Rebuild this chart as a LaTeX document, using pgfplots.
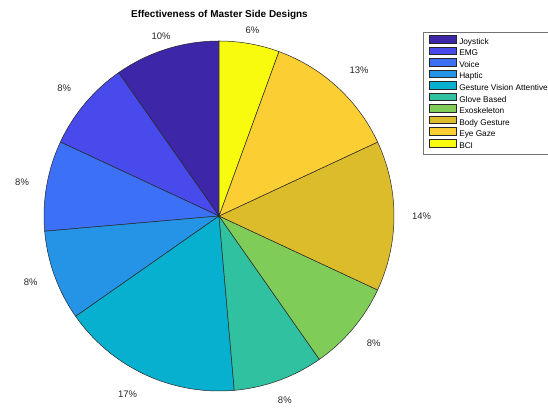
\documentclass[border=0pt]{standalone}
\usepackage{fontspec}
\setmainfont{Liberation Sans}
\usepackage{pgfplots}
\usepackage{pgfplotstable}
\pgfplotsset{compat=1.18}

\definecolor{s0}{RGB}{62,38,168}
\definecolor{s1}{RGB}{72,74,236}
\definecolor{s2}{RGB}{60,112,246}
\definecolor{s3}{RGB}{38,148,230}
\definecolor{s4}{RGB}{8,176,208}
\definecolor{s5}{RGB}{48,194,160}
\definecolor{s6}{RGB}{128,204,89}
\definecolor{s7}{RGB}{221,188,44}
\definecolor{s8}{RGB}{251,206,52}
\definecolor{s9}{RGB}{249,251,14}

% counts per design (percentages shown are count/total)
\pgfplotstableread[col sep=comma]{
name,count
Joystick,7
EMG,6
Voice,6
Haptic,6
Gesture Vision Attentive,12
Glove Based,6
Exoskeleton,6
Body Gesture,10
Eye Gaze,9
BCI,4
}\piedata

\tikzset{
  lab/.style={font=\fontsize{9.5}{11}\selectfont, inner sep=0.3bp, text=black!85},
  anc0/.style={anchor=north},
  anc1/.style={anchor=south east},
  anc2/.style={anchor=east},
  anc3/.style={anchor=east},
  anc4/.style={anchor=north east},
  anc5/.style={anchor=north},
  anc6/.style={anchor=north west},
  anc7/.style={anchor=west},
  anc8/.style={anchor=south west},
  anc9/.style={anchor=north},
}
\pgfplotsset{slice/.style={draw=black!85, line width=0.5bp, samples=73}}

\begin{document}
\begin{tikzpicture}
\def\total{0}
\pgfplotsforeachungrouped \i in {0,...,9}{%
  \pgfplotstablegetelem{\i}{count}\of\piedata
  \pgfmathsetmacro\total{\total+\pgfplotsretval}%
}
\def\cum{0}
\pgfplotsforeachungrouped \i in {0,...,9}{%
  \pgfplotstablegetelem{\i}{count}\of\piedata
  \let\cnt\pgfplotsretval
  \pgfmathsetmacro\sa{90+\cum/\total*360}%
  \pgfmathsetmacro\ea{90+(\cum+\cnt)/\total*360}%
  \pgfmathsetmacro\ma{(\sa+\ea)/2}%
  \pgfmathtruncatemacro\pc{round(\cnt/\total*100)}%
  \expandafter\xdef\csname sA\i\endcsname{\sa}%
  \expandafter\xdef\csname eA\i\endcsname{\ea}%
  \expandafter\xdef\csname mA\i\endcsname{\ma}%
  \expandafter\xdef\csname pc\i\endcsname{\pc}%
  \pgfmathsetmacro\cum{\cum+\cnt}%
}
\begin{axis}[
  width=548bp, height=408bp, scale only axis,
  xmin=-1.251429, xmax=1.88, ymin=-1.097143, ymax=1.234286,
  hide axis, clip=false,
  every axis title shift=0pt,
  title={Effectiveness of Master Side Designs},
  title style={at={(axis description cs:0.4005,0.9632)}, anchor=center,
    font=\bfseries\fontsize{10}{12}\selectfont},
  legend style={at={(axis description cs:0.7719,0.9216)}, anchor=north west,
    draw=black!55, line width=0.5bp, fill=white,
    inner xsep=6bp, inner ysep=2.8bp, row sep=-0.6bp, column sep=0pt,
    font=\fontsize{8.3}{9}\selectfont,
    nodes={inner xsep=2.5bp, inner ysep=1.35bp, text height=6bp, text depth=1.5bp}},
  legend cell align=left,
  legend image code/.code={\draw[#1] (0bp,-0.8bp) rectangle (27bp,6.8bp);},
]
\pgfplotsinvokeforeach{0,...,9}{
  \edef\temp{\noexpand\addplot[slice, fill=s#1, domain=\csname sA#1\endcsname:\csname eA#1\endcsname]}
  \temp ({cos(x)},{sin(x)}) -- (axis cs:0,0) -- cycle;
  \pgfplotstablegetelem{#1}{name}\of\piedata
  \addlegendentryexpanded{\pgfplotsretval}
}
\pgfplotsinvokeforeach{0,...,9}{
  \edef\temp{\noexpand\node[lab,anc#1] at (axis cs:{1.1*cos(\csname mA#1\endcsname)},{1.1*sin(\csname mA#1\endcsname)}) {\csname pc#1\endcsname\noexpand\%};}
  \temp
}
\end{axis}
\pgfresetboundingbox
\path[use as bounding box] (current axis.south west) rectangle (current axis.north east);
\end{tikzpicture}
\end{document}
